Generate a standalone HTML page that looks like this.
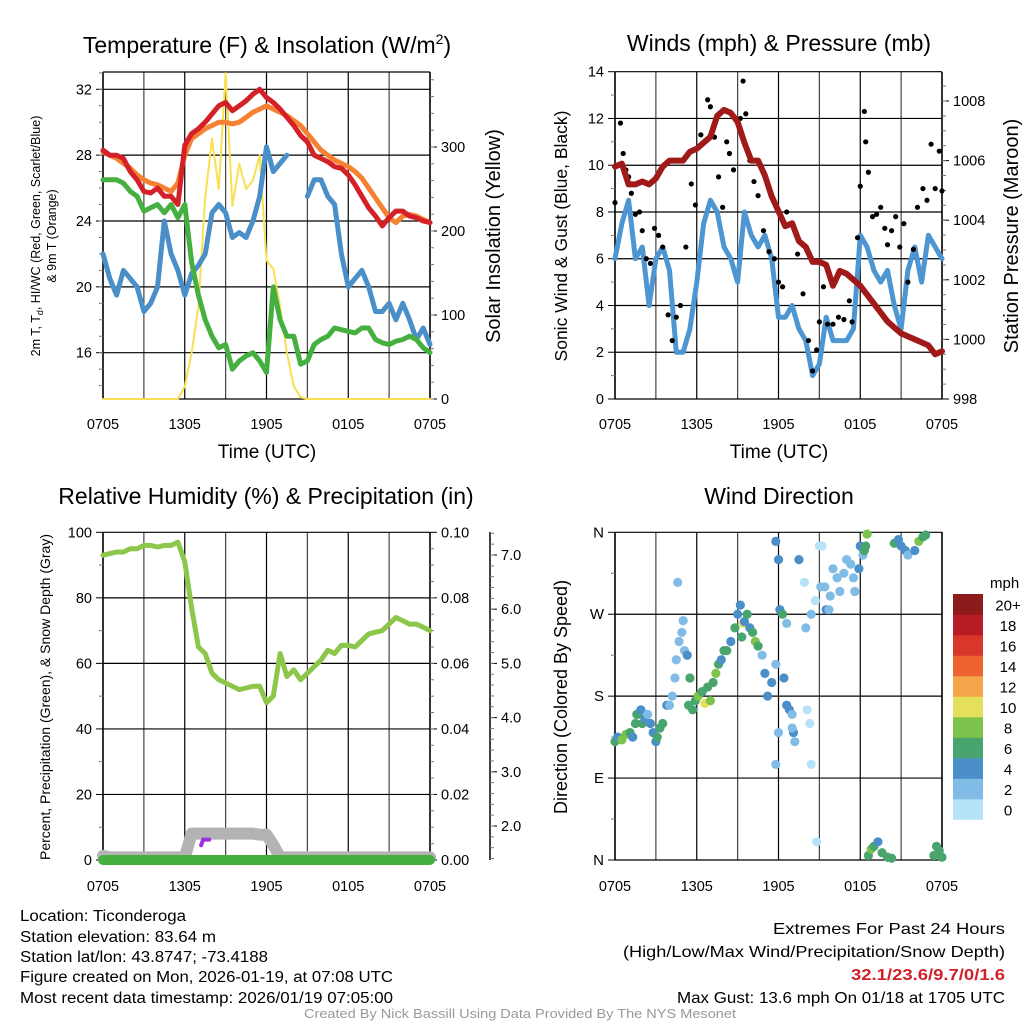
<!DOCTYPE html>
<html><head><meta charset="utf-8"><style>
html,body{margin:0;padding:0;background:#fff;}
svg{display:block;font-family:"Liberation Sans",sans-serif;}
</style></head><body>
<svg id="fig" width="1024" height="1024" viewBox="0 0 1024 1024" xmlns="http://www.w3.org/2000/svg">
<rect width="1024" height="1024" fill="#fff"/>
<text x="267" y="53" font-size="23" text-anchor="middle">Temperature (F) &amp; Insolation (W/m<tspan dy="-9" font-size="14">2</tspan><tspan dy="9">)</tspan></text>
<text x="779" y="51" font-size="23" text-anchor="middle">Winds (mph) &amp; Pressure (mb)</text>
<text x="266" y="504" font-size="23" text-anchor="middle">Relative Humidity (%) &amp; Precipitation (in)</text>
<text x="779" y="504" font-size="23" text-anchor="middle">Wind Direction</text>
<text transform="translate(40,236) rotate(-90)" font-size="12.5" text-anchor="middle">2m T, T<tspan font-size="9" dy="3">d</tspan><tspan dy="-3">, HI/WC (Red, Green, Scarlet/Blue)</tspan></text>
<text transform="translate(56,236) rotate(-90)" font-size="12.5" text-anchor="middle">&amp; 9m T (Orange)</text>
<text transform="translate(500,236) rotate(-90)" font-size="20" text-anchor="middle">Solar Insolation (Yellow)</text>
<text x="267" y="458" font-size="19" text-anchor="middle">Time (UTC)</text>
<text transform="translate(567,236) rotate(-90)" font-size="17.5" text-anchor="middle">Sonic Wind &amp; Gust (Blue, Black)</text>
<text transform="translate(1018,236) rotate(-90)" font-size="20" text-anchor="middle">Station Pressure (Maroon)</text>
<text x="779" y="458" font-size="19" text-anchor="middle">Time (UTC)</text>
<text transform="translate(50,697) rotate(-90)" font-size="14" text-anchor="middle">Percent, Precipitation (Green), &amp; Snow Depth (Gray)</text>
<text transform="translate(567,697) rotate(-90)" font-size="18" text-anchor="middle">Direction (Colored By Speed)</text>
<g font-size="15.5">
<text x="20" y="921" textLength="166" lengthAdjust="spacingAndGlyphs">Location: Ticonderoga</text>
<text x="20" y="942" textLength="196" lengthAdjust="spacingAndGlyphs">Station elevation: 83.64 m</text>
<text x="20" y="962" textLength="248" lengthAdjust="spacingAndGlyphs">Station lat/lon: 43.8747; -73.4188</text>
<text x="20" y="982" textLength="373" lengthAdjust="spacingAndGlyphs">Figure created on Mon, 2026-01-19, at 07:08 UTC</text>
<text x="20" y="1003" textLength="373" lengthAdjust="spacingAndGlyphs">Most recent data timestamp: 2026/01/19 07:05:00</text>
</g>
<g font-size="16" text-anchor="end">
<text x="1005" y="934" textLength="232" lengthAdjust="spacingAndGlyphs">Extremes For Past 24 Hours</text>
<text x="1005" y="957" textLength="382" lengthAdjust="spacingAndGlyphs">(High/Low/Max Wind/Precipitation/Snow Depth)</text>
<text x="1005" y="980" font-weight="bold" fill="#d0202a" textLength="154" lengthAdjust="spacingAndGlyphs">32.1/23.6/9.7/0/1.6</text>
<text x="1005" y="1003" textLength="328" lengthAdjust="spacingAndGlyphs">Max Gust: 13.6 mph On 01/18 at 1705 UTC</text>
</g>
<text x="520" y="1018" font-size="12.5" fill="#999" text-anchor="middle" textLength="432" lengthAdjust="spacingAndGlyphs">Created By Nick Bassill Using Data Provided By The NYS Mesonet</text>
<g id="plots"></g>
</svg>
<script>
const timeLabels = ["0705","1305","1905","0105","0705"];
const hours = []; for (let i = 0; i <= 48; i++) hours.push(i / 2);
const tempRed = [28.3,28.0,28.0,27.8,27.0,26.5,25.8,25.7,26.0,25.5,25.5,25.0,28.6,29.3,29.6,30.0,30.5,31.0,31.2,30.7,31.0,31.3,31.7,32.0,31.5,31.2,30.8,30.3,29.8,29.2,28.8,28.0,27.8,27.6,27.3,27.2,26.8,26.2,25.5,24.8,24.3,23.7,24.2,24.6,24.6,24.3,24.2,24.0,23.9];
const temp9m = [28.2,28.0,27.8,27.5,27.2,26.8,26.5,26.3,26.2,26.0,25.8,26.3,28.0,29.0,29.3,29.6,29.8,30.0,30.0,29.9,30.0,30.3,30.6,30.8,31.0,30.8,30.6,30.4,30.1,29.8,29.3,28.8,28.3,28.0,27.7,27.5,27.3,27.0,26.6,26.0,25.4,24.8,24.2,23.9,24.3,24.4,24.3,24.1,23.9];
const dewGreen = [26.5,26.5,26.5,26.3,25.8,25.5,24.6,24.8,25.0,24.5,25.0,24.2,25.0,21.5,19.5,18.0,17.0,16.3,16.5,15.0,15.5,15.8,16.0,15.5,14.8,20.0,18.0,17.0,17.0,15.3,15.5,16.5,16.8,17.0,17.5,17.4,17.3,17.2,17.5,17.5,16.8,16.6,16.5,16.7,16.8,17.0,16.8,16.3,16.0];
const hiwcBlue = [22.0,20.5,19.5,21.0,20.5,20.0,18.5,19.0,20.0,24.0,22.0,21.0,19.5,20.8,21.3,22.0,24.5,25.0,24.5,23.0,23.3,23.0,24.0,25.5,28.5,27.0,27.5,28.0,null,null,25.5,26.5,26.5,25.5,25.0,22.0,20.0,20.5,21.0,20.0,18.5,18.5,19.0,18.0,19.0,18.0,16.8,17.5,16.5];
const solar = [0,0,0,0,0,0,0,0,0,0,0,0,15,55,110,240,310,250,388,230,280,250,260,290,165,155,110,55,15,2,0,0,0,0,0,0,0,0,0,0,0,0,0,0,0,0,0,0,0];
const windBlue = [6,7.5,8.5,6,6.5,4,6,6.5,5.5,2,2,3,5,7.5,8.5,8,6.5,6,5,8,7,6.5,7,6,3.5,3.5,4,3,2.5,1,1.5,3.5,2.5,2.5,2.5,3,7,6.5,5.5,5,5.5,4,3,5.5,6.5,5,7,6.5,6];
const pressure = [1005.8,1005.9,1005.2,1005.2,1005.3,1005.2,1005.4,1005.8,1006.0,1006.0,1006.0,1006.3,1006.4,1006.6,1006.8,1007.5,1007.7,1007.6,1007.3,1006.6,1006.0,1006.0,1005.5,1004.8,1004.3,1003.8,1003.9,1003.3,1003.1,1002.6,1002.6,1002.5,1001.8,1002.3,1002.2,1002.0,1001.8,1001.5,1001.2,1000.9,1000.6,1000.4,1000.2,1000.1,1000.0,999.9,999.8,999.5,999.6];
const gustHours = [0,0.2,0.4,0.6,0.8,1,1.2,1.5,1.8,2,2.3,2.6,2.9,3.2,3.5,3.9,4.2,4.5,4.8,5.2,5.6,5.9,6.3,6.6,6.8,7,7.3,7.6,7.9,8.2,8.4,8.7,9,9.2,9.4,9.6,9.9,10.2,10.5,10.9,11.3,11.7,12,12.3,12.6,13,13.4,13.8,14.2,14.5,14.8,15,15.3,15.6,16,16.4,16.8,17.2,17.4,17.8,18,18.3,18.4,18.6,18.9,19.2,19.5,19.8,20,20.3,20.6,20.9,21.2,21.5,21.9,22.2,22.6,22.9,23.2,23.5,23.8,24];
const gustValues = [8.4,10,11.8,10.5,9.8,9.5,8.8,7.9,8,7.2,6,5.8,7.3,7.0,6.5,3.6,2.5,3.5,4,6.5,9.2,8.3,11.3,11.0,12.8,12.5,11.2,9.5,8.2,11.0,10.5,9.8,11.9,12.0,13.6,12.2,10.2,9.3,8.7,7.2,6.3,6.0,5.0,4.8,8.0,7.5,6.2,4.5,2.5,1.2,2.1,3.3,4.8,3.2,3.2,3.5,3.4,4.2,3.3,6.9,9.1,12.3,11.0,9.7,7.8,7.9,8.2,7.3,6.6,7.2,7.8,6.5,7.5,5.0,6.4,8.2,9.0,8.5,10.9,9.0,10.6,8.9];
const rhValues = [93,93.5,94,94,95,95,96,96,95.5,96,96,97,91,77,65,63,57,55,54,53,52,52.5,53,53,48,50,63,56,58,55,57,59,61,64,63,65.5,65.5,65,67,69,69.5,70,72,74,73,72,72,71,70];
const snowDepth = [1.45,1.42,1.42,1.42,1.42,1.42,1.42,1.42,1.42,1.42,1.42,1.42,1.42,1.86,1.86,1.86,1.86,1.86,1.86,1.86,1.86,1.86,1.86,1.84,1.84,1.65,1.42,1.42,1.42,1.42,1.42,1.42,1.42,1.42,1.42,1.42,1.42,1.42,1.42,1.42,1.42,1.42,1.42,1.42,1.42,1.42,1.42,1.42,1.42];
const precip = [0,0,0,0,0,0,0,0,0,0,0,0,0,0,0,0,0,0,0,0,0,0,0,0,0,0,0,0,0,0,0,0,0,0,0,0,0,0,0,0,0,0,0,0,0,0,0,0,0];
const dirHours = [0,0.2,0.5,0.8,1.1,1.3,1.5,1.6,1.7,1.9,2.0,2.2,2.4,2.6,2.8,3.0,3.1,3.3,3.5,3.8,4.0,4.2,4.4,4.5,4.6,4.7,4.9,5.0,5.1,5.3,5.5,5.4,5.7,5.9,6.1,6.4,6.6,6.8,7.0,7.2,7.4,7.6,7.8,8.0,8.2,8.5,8.8,9.0,9.2,9.3,9.4,9.5,9.7,9.9,10.1,10.3,10.5,10.8,11.0,11.2,11.5,11.8,11.8,12.0,12.1,12.3,12.4,12.6,12.8,13.0,13.1,13.0,13.2,12.0,11.8,12.6,13.5,13.9,14.1,14.3,14.0,14.4,15.2,14.7,15.0,15.1,14.4,14.8,15.5,15.7,15.4,15.8,16.0,16.3,16.5,16.8,17.0,17.3,17.5,17.6,17.9,18.0,18.2,18.3,18.4,18.5,18.6,18.8,19.0,19.3,19.6,20.0,20.3,20.5,20.8,21.0,21.3,21.5,22.0,22.3,22.6,22.8,23.4,23.6,23.8,24.0];
const dirDegrees = [130,135,132,138,140,135,150,160,160,165,150,155,160,150,140,130,135,145,150,170,170,180,200,220,305,240,250,263,230,225,200,170,165,175,180,185,172,190,175,195,205,215,220,230,230,240,255,270,280,245,260,262,270,255,250,240,235,225,205,180,195,215,350,330,275,270,200,170,165,160,140,145,130,140,105,260,330,305,165,150,255,270,345,285,345,300,105,20,275,275,300,290,320,310,295,315,330,325,310,295,320,345,335,340,345,358,5,12,15,20,8,3,2,348,352,345,340,335,340,350,355,357,5,15,10,3];
const dirSpeeds = [7,4,8,8,7,5,6,7,6,5,6,4,3,4,5,4,6,6,6,4,2,2,3,3,2,3,3,3,3,4,6,6,7,6,8,7,10,7,8,6,8,6,4,6,7,4,6,4,4,6,10,4,7,5,6,8,6,3,4,4,4,3,4,4,4,6,4,4,4,3,4,3,2,2,3,3,4,0,1,1,2,2,1,1,0,2,1,1,4,2,2,2,2,2,2,3,2,2,2,2,4,4,3,6,7,8,6,8,6,4,6,6,6,6,4,4,4,2,4,8,7,6,6,6,7,6];
const speedBins = ["0","2","4","6","8","10","12","14","16","18","20+"];
const binColors = ["#b6e3f7","#80bce6","#4a8fc7","#48a56e","#7dc24b","#e5e05c","#f5a64a","#ee6330","#d9372b","#b71c24","#8e1b1b"];

const NS = "http://www.w3.org/2000/svg";
const root = document.getElementById("plots");
function mk(tag, attrs, parent) {
  const e = document.createElementNS(NS, tag);
  for (const k in attrs) e.setAttribute(k, attrs[k]);
  (parent || root).appendChild(e);
  return e;
}
function lin(d0, d1, r0, r1) { return v => r0 + (v - d0) * (r1 - r0) / (d1 - d0); }
function pathFrom(xs, ys, xf, yf) {
  let d = "", pen = false;
  for (let i = 0; i < xs.length; i++) {
    if (ys[i] === null) { pen = false; continue; }
    d += (pen ? "L" : "M") + xf(xs[i]).toFixed(1) + "," + yf(ys[i]).toFixed(1);
    pen = true;
  }
  return d;
}
function drawLine(xs, ys, xf, yf, color, w, name, parent) {
  const p = mk("path", {d: pathFrom(xs, ys, xf, yf), fill: "none", stroke: color, "stroke-width": w, "stroke-linejoin": "round", "stroke-linecap": "round"}, parent);
  
  
  return p;
}
function frame(name) {
  const g = mk("g", {});
  
  
  return g;
}
function gridX(L, R, T, B, g, xLabY) {
  const xf = lin(0, 24, L, R);
  for (let h = 0; h <= 24; h += 3) {
    const l = mk("line", {x1: xf(h), x2: xf(h), y1: T, y2: B, stroke: (h % 6 === 0) ? "#000" : "#444", "stroke-width": 1.2}, g);
    
    
  }
  timeLabels.forEach((lab, i) => {
    const t = mk("text", {x: xf(i * 6), y: xLabY, "font-size": 14.5, "text-anchor": "middle"}, g);
    t.textContent = lab;
    
    
  });
  return xf;
}
function yAxis(g, x, T, B, vals, labs, yf, side, minorVals, fs) {
  mk("line", {x1: x, x2: x, y1: T, y2: B, stroke: "#000", "stroke-width": 1.5}, g);
  const dir = side === "left" ? -1 : 1;
  vals.forEach((v, i) => {
    const y = yf(v);
    mk("line", {x1: x, x2: x + dir * 7, y1: y, y2: y, stroke: "#000", "stroke-width": 1}, g);
    const t = mk("text", {x: x + dir * 11, y: y + 5, "font-size": fs || 14.5, "text-anchor": side === "left" ? "end" : "start"}, g);
    t.textContent = labs[i];
    
    
  });
  (minorVals || []).forEach(v => {
    const y = yf(v);
    if (y < T - 0.5 || y > B + 0.5) return;
    mk("line", {x1: x, x2: x + dir * 4, y1: y, y2: y, stroke: "#777", "stroke-width": 1}, g);
  });
}
function hGrid(g, L, R, ys) {
  ys.forEach(y => {
    const l = mk("line", {x1: L, x2: R, y1: y, y2: y, stroke: "#000", "stroke-width": 1.2}, g);
    
    
  });
}
function range(a, b, s) { const r = []; for (let v = a; v <= b + 1e-9; v += s) r.push(+v.toFixed(4)); return r; }

(function () {
  const L = 103, R = 430, T = 72, B = 399;
  const g = frame("temperature-panel");
  const xf = gridX(L, R, T, B, g, 429);
  const yT = lin(16, 32, 352.7, 89.3);
  const yS = lin(0, 300, 399, 147);
  hGrid(g, L, R, [T, ...[32, 28, 24, 20, 16].map(yT), B]);
  yAxis(g, L, T, B, [32, 28, 24, 20, 16], ["32", "28", "24", "20", "16"], yT, "left", range(14, 33, 1));
  yAxis(g, R, T, B, [300, 200, 100, 0], ["300", "200", "100", "0"], yS, "right", range(0, 380, 20));
  drawLine(hours, solar, xf, yS, "#f8e050", 2, "solar-insolation-line", g);
  drawLine(hours, hiwcBlue, xf, yT, "#4a8fc7", 5, "heat-index-wind-chill-line", g);
  drawLine(hours, dewGreen, xf, yT, "#45b040", 5, "dewpoint-line", g);
  drawLine(hours, temp9m, xf, yT, "#f58232", 5, "9m-temperature-line", g);
  drawLine(hours, tempRed, xf, yT, "#d42027", 5, "2m-temperature-line", g);
})();

(function () {
  const L = 615, R = 942, T = 72, B = 399;
  const g = frame("winds-panel");
  const xf = gridX(L, R, T, B, g, 429);
  const yW = lin(0, 14, 399, 71.7);
  const yP = lin(998, 1008, 399, 101);
  hGrid(g, L, R, range(0, 14, 2).map(yW));
  yAxis(g, L, T, B, range(0, 14, 2), ["0","2","4","6","8","10","12","14"], yW, "left", range(1, 13, 2));
  yAxis(g, R, T, B, [998, 1000, 1002, 1004, 1006, 1008], ["998","1000","1002","1004","1006","1008"], yP, "right", range(998.5, 1008.5, 0.5));
  drawLine(hours, windBlue, xf, yW, "#4d96d2", 5, "sonic-wind-line", g);
  gustHours.forEach((h, i) => {
    const c = mk("circle", {cx: xf(h), cy: yW(gustValues[i]), r: 2.6, fill: "#000"}, g);
    
    
  });
  drawLine(hours, pressure, xf, yP, "#a11a1a", 6, "station-pressure-line", g);
})();

(function () {
  const L = 103, R = 430, T = 532, B = 860;
  const g = frame("humidity-panel");
  const xf = gridX(L, R, T, B, g, 891);
  const yR = lin(0, 100, 860, 532.3);
  const yPr = lin(0, 0.1, 860, 532.3);
  const ySn = lin(2, 7, 826, 555);
  hGrid(g, L, R, [0, 20, 40, 60, 80, 100].map(yR));
  yAxis(g, L, T, B, [0,20,40,60,80,100], ["0","20","40","60","80","100"], yR, "left", range(10, 90, 20));
  yAxis(g, R, T, B, [0,0.02,0.04,0.06,0.08,0.1], ["0.00","0.02","0.04","0.06","0.08","0.10"], yPr, "right", range(0.005, 0.095, 0.005));
  yAxis(g, 490, T, B, [2,3,4,5,6,7], ["2.0","3.0","4.0","5.0","6.0","7.0"], ySn, "right", range(1.4, 7.4, 0.2), 14.5);
  drawLine(hours, snowDepth, xf, ySn, "#b3b3b3", 12, "snow-depth-line", g);
  const pp = mk("path", {d: "M" + xf(7.2) + "," + (yR(4.5)) + "L" + xf(7.35) + "," + yR(6.2) + "L" + xf(7.8) + "," + yR(6.2), stroke: "#9b30e0", "stroke-width": 4, fill: "none", "stroke-linecap": "round"}, g);
  
  
  drawLine(hours, precip, xf, yPr, "#45b040", 10, "precipitation-line", g);
  drawLine(hours, rhValues, xf, yR, "#8cc64a", 5, "relative-humidity-line", g);
})();

(function () {
  const L = 615, R = 942, T = 532, B = 860;
  const g = frame("wind-direction-panel");
  const xf = gridX(L, R, T, B, g, 891);
  const yD = lin(0, 360, 860, 532.3);
  hGrid(g, L, R, [0, 90, 180, 270, 360].map(yD));
  yAxis(g, L, T, B, [0, 90, 180, 270, 360], ["N","E","S","W","N"], yD, "left", [45,135,225,315], 15);
  mk("line", {x1: R, x2: R, y1: T, y2: B, stroke: "#000", "stroke-width": 1.5}, g);
  dirHours.forEach((h, i) => {
    const bin = Math.min(10, Math.floor(dirSpeeds[i] / 2));
    const c = mk("circle", {cx: xf(h), cy: yD(dirDegrees[i]), r: 4.6, fill: binColors[bin]}, g);
    
    
  });
  const lg = mk("g", {}, g);
  
  
  const mt = mk("text", {x: 990, y: 588, "font-size": 15}, lg);
  mt.textContent = "mph";
  
  
  const bh = 20.5;
  for (let i = 0; i < speedBins.length; i++) {
    const y = 594 + (10 - i) * bh;
    const r = mk("rect", {x: 953, y: y, width: 30, height: bh + 0.3, fill: binColors[i]}, lg);
    
    
    const t = mk("text", {x: 1008, y: y + bh / 2 + 6, "font-size": 15, "text-anchor": "middle"}, lg);
    t.textContent = speedBins[i];
    
    
  }
})();
</script>
</body></html>
